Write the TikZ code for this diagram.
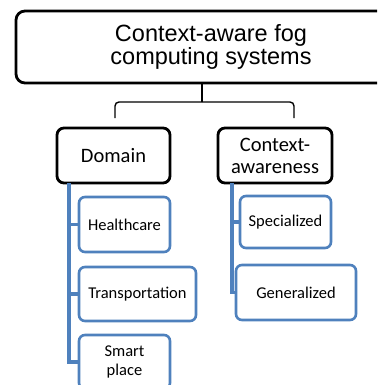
\documentclass[tikz,border=0pt]{standalone}
\usepackage{fontspec}
\setmainfont{Carlito}
\newfontfamily\arialf{Liberation Sans}
\definecolor{ofblue}{HTML}{4F81BD}
\begin{document}
\begin{tikzpicture}[x=1pt,y=-1pt,
  topbox/.style={draw=black,line width=2.8pt,rounded corners=9pt,fill=white,align=center,inner sep=0pt},
  catbox/.style={draw=black,line width=2.8pt,rounded corners=7pt,fill=white,align=center,inner sep=0pt,font=\fontsize{20.5}{22}\selectfont},
  leafbox/.style={draw=ofblue,line width=2.6pt,rounded corners=6pt,fill=white,align=center,inner sep=0pt,font=\fontsize{16.5}{18.5}\selectfont},
  blueline/.style={draw=ofblue,line width=3.2pt},
  braceline/.style={draw=black,line width=1.4pt,rounded corners=4pt}]
\useasboundingbox (0,0) rectangle (377,385);
\clip (0,0) rectangle (377,385);
\node[topbox,minimum width=390pt,minimum height=72pt,font=\arialf\fontsize{23.5}{23}\selectfont] (top) at (211,47) {Context-aware fog\\computing systems};
\node[catbox,minimum width=113pt,minimum height=55pt] (dom) at (113.5,155.5) {Domain};
\node[catbox,minimum width=114pt,minimum height=55pt] (ctx) at (275,155.5) {Context-\\awareness};
\node[leafbox,minimum width=91pt,minimum height=55pt] (hc) at (124.5,224.5) {Healthcare};
\node[leafbox,minimum width=117pt,minimum height=54pt] (tr) at (137.5,294) {Transportation};
\node[leafbox,minimum width=91pt,minimum height=54pt] (sp) at (124.5,362) {Smart\\place};
\node[leafbox,minimum width=91pt,minimum height=52pt] (spec) at (285.5,222) {Specialized};
\node[leafbox,minimum width=120pt,minimum height=55pt] (gen) at (296,292.5) {Generalized};
\coordinate (bmid) at (202,102);
\coordinate (bl) at (115,118);
\coordinate (br) at (294,118);
\draw[braceline] (top.south -| bmid) -- (bmid);
\draw[braceline] (bmid) -| (bl);
\draw[braceline] (bmid) -| (br);
\coordinate (d0) at (69,183);
\coordinate (c0) at (232,183);
\draw[blueline] (d0) |- (sp.west);
\draw[blueline] (d0) |- (hc.west);
\draw[blueline] (d0) |- (tr.west);
\draw[blueline] (c0) |- (gen.west);
\draw[blueline] (c0) |- (spec.west);
\end{tikzpicture}
\end{document}
